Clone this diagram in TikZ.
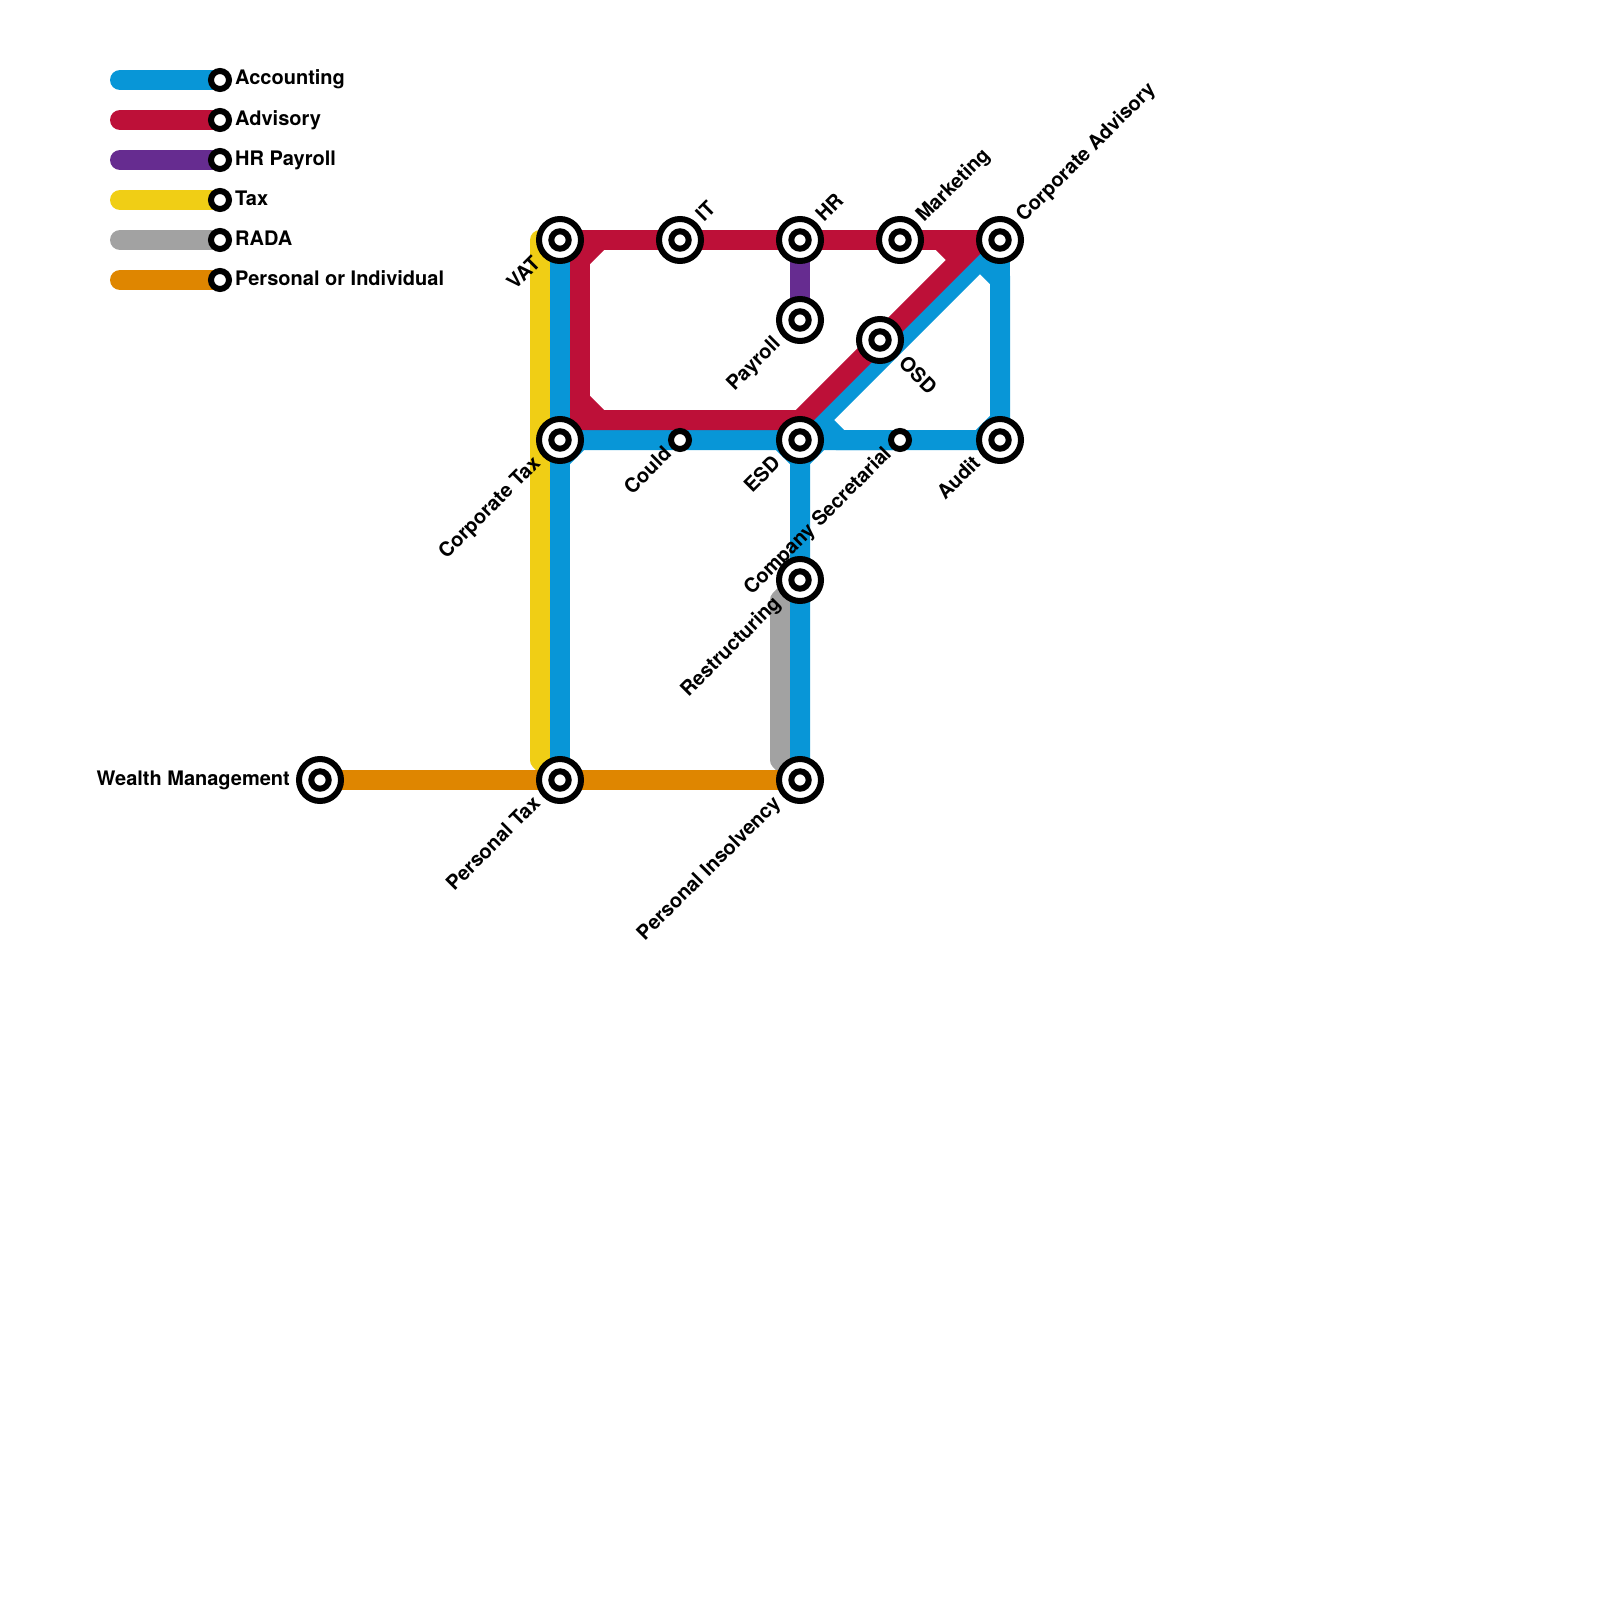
\documentclass[tikz,border=0pt]{standalone}
\usepackage{fontspec}
\setmainfont{TeX Gyre Heros}
\usepackage{tikz}
\usetikzlibrary{positioning}

\definecolor{lineblue}{HTML}{0896D7}
\definecolor{linered}{HTML}{BD1038}
\definecolor{linepurple}{HTML}{662C90}
\definecolor{lineyellow}{HTML}{F0CE15}
\definecolor{linegray}{HTML}{A2A2A2}
\definecolor{lineorange}{HTML}{DF8600}

\pgfdeclarelayer{lines}
\pgfsetlayers{lines,main}

\tikzset{
    metro/.style={line width=20pt},
    legendline/.style={metro, line cap=round},
    softline/.style={metro, line cap=round, line join=round},
    stopbig/.style={circle, draw=black, line width=6pt, fill=white, inner sep=0pt, outer sep=0pt, minimum size=42pt,
        path picture={\draw[line width=6pt, fill=white] (path picture bounding box.center) circle (8.7pt);}},
    stopsmall/.style={circle, draw=black, line width=6pt, fill=white, inner sep=0pt, outer sep=0pt, minimum size=18pt},
    lbl/.style={font=\fontsize{20}{20}\selectfont\bfseries, text=black, inner sep=0pt, text height=14pt, text depth=4pt},
    lblne/.style={xshift=20.5pt, yshift=20.5pt, lbl, rotate=45, anchor=west},
    lblsw/.style={xshift=-22pt, yshift=-21pt, lbl, rotate=45, anchor=east},
    lblswsmall/.style={xshift=-11pt, yshift=-11.5pt, lbl, rotate=45, anchor=east},
    lblse/.style={xshift=21pt, yshift=-21pt, lbl, rotate=-45, anchor=west}
}

\begin{document}
\begin{tikzpicture}[x=1pt, y=-1pt]
    \useasboundingbox (0,0) rectangle (1600,1600);

    \node [stopsmall] (lgaccounting) at (220,80) {};
    \node [stopsmall] (lgadvisory) at (220,120) {};
    \node [stopsmall] (lgpayroll) at (220,160) {};
    \node [stopsmall] (lgtax) at (220,200) {};
    \node [stopsmall] (lgrada) at (220,240) {};
    \node [stopsmall] (lgpersonal) at (220,280) {};
    \coordinate (startaccounting) at (120,80);
    \coordinate (startadvisory) at (120,120);
    \coordinate (startpayroll) at (120,160);
    \coordinate (starttax) at (120,200);
    \coordinate (startrada) at (120,240);
    \coordinate (startpersonal) at (120,280);
    \node [lbl, right=6pt of lgaccounting] (txtaccounting) {Accounting};
    \node [lbl, right=6pt of lgadvisory] (txtadvisory) {Advisory};
    \node [lbl, right=6pt of lgpayroll] (txtpayroll) {HR Payroll};
    \node [lbl, right=6pt of lgtax] (txttax) {Tax};
    \node [lbl, right=6pt of lgrada] (txtrada) {RADA};
    \node [lbl, right=6pt of lgpersonal] (txtpersonal) {Personal or Individual};

    \node [stopbig] (vat) at (560,240) {};
    \node [stopbig] (it) at (680,240) {};
    \node [stopbig] (hr) at (800,240) {};
    \node [stopbig] (marketing) at (900,240) {};
    \node [stopbig] (corpadvisory) at (1000,240) {};
    \node [stopbig] (payroll) at (800,320) {};
    \node [stopbig] (osd) at (880,340) {};
    \node [stopbig] (corptax) at (560,440) {};
    \node [stopsmall] (could) at (680,440) {};
    \node [stopbig] (esd) at (800,440) {};
    \node [stopsmall] (compsec) at (900,440) {};
    \node [stopbig] (audit) at (1000,440) {};
    \node [stopbig] (restructuring) at (800,580) {};
    \node [stopbig] (wealth) at (320,780) {};
    \node [stopbig] (perstax) at (560,780) {};
    \node [stopbig] (insolvency) at (800,780) {};

    \node [lblsw] (lblvat) at (vat) {VAT};
    \node [lblne] (lblit) at (it) {IT};
    \node [lblne] (lblhr) at (hr) {HR};
    \node [lblne] (lblmarketing) at (marketing) {Marketing};
    \node [lblne] (lblcorpadvisory) at (corpadvisory) {Corporate Advisory};
    \node [lblsw] (lblpayroll) at (payroll) {Payroll};
    \node [lblse] (lblosd) at (osd) {OSD};
    \node [lblsw] (lblcorptax) at (corptax) {Corporate Tax};
    \node [lblswsmall] (lblcould) at (could) {Could};
    \node [lblsw] (lblesd) at (esd) {ESD};
    \node [lblswsmall] (lblcompsec) at (compsec) {Company Secretarial};
    \node [lblsw] (lblaudit) at (audit) {Audit};
    \node [lblsw] (lblrestructuring) at (restructuring) {Restructuring};
    \node [lblsw] (lblperstax) at (perstax) {Personal Tax};
    \node [lblsw] (lblinsolvency) at (insolvency) {Personal Insolvency};
    \node [lbl, anchor=east, xshift=-30pt] (lblwealth) at (wealth) {Wealth Management};

    \coordinate (taxtop) at (540,240);
    \coordinate (taxbottom) at (540,760);
    \coordinate (radatop) at (780,600);
    \coordinate (radabottom) at (780,760);
    \coordinate (bluewest) at (580,440);
    \coordinate (blueinwest) at (780,440);
    \coordinate (blueout) at (800,460);
    \coordinate (bluemid) at (820,420);
    \coordinate (blueeast) at (840,440);
    \coordinate (bluelink) at (820,440);
    \coordinate (bluetop) at (980,260);
    \coordinate (blueright) at (1000,280);
    \coordinate (bluelow) at (1000,420);
    \coordinate (bluecorner) at (980,440);
    \coordinate (bluedrop) at (560,460);
    \coordinate (redne) at (940,240);
    \coordinate (redturn) at (960,260);
    \coordinate (redend) at (980,240);
    \coordinate (redsw) at (800,420);
    \coordinate (redbase) at (570,420);
    \coordinate (redlow) at (600,420);
    \coordinate (redleftlow) at (580,400);
    \coordinate (redlefttop) at (580,260);
    \coordinate (redup) at (600,240);
    \coordinate (redtop) at (580,240);
    \coordinate (redfoot) at (580,430);

    \begin{pgfonlayer}{lines}
        \draw [legendline, lineblue] (startaccounting) -- (lgaccounting.center);
        \draw [legendline, linered] (startadvisory) -- (lgadvisory.center);
        \draw [legendline, linepurple] (startpayroll) -- (lgpayroll.center);
        \draw [legendline, lineyellow] (starttax) -- (lgtax.center);
        \draw [legendline, linegray] (startrada) -- (lgrada.center);
        \draw [legendline, lineorange] (startpersonal) -- (lgpersonal.center);

        \draw [softline, lineyellow] (vat.center) -- (taxtop) -- (taxbottom) -- (perstax.center);
        \draw [softline, linegray] (restructuring.center) -- (radatop) -- (radabottom) -- (insolvency.center);

        \draw [metro, lineblue] (vat.center) -- (perstax.center);
        \draw [metro, lineblue] (bluedrop) -- (bluewest) -- (blueinwest) -- (blueout) -- (insolvency.center);
        \draw [metro, lineblue] (blueout) -- (bluelink) -- (compsec.center);
        \draw [metro, lineblue] (esd.center) -- (bluetop) -- (blueright) -- (bluelow) -- (bluecorner) -- (blueeast) -- (bluemid) -- (esd.center);
        \draw [metro, lineblue] (corpadvisory.center) -- (audit.center);

        \draw [metro, linepurple] (hr.center) -- (payroll.center);

        \draw [metro, linered] (vat.center) -- (corpadvisory.center);
        \draw [metro, linered] (redne) -- (redturn);
        \draw [metro, linered] (redend) -- (redsw) -- (redbase);
        \draw [metro, linered] (redtop) -- (redfoot);
        \draw [metro, linered] (redup) -- (redlefttop);
        \draw [metro, linered] (redleftlow) -- (redlow);

        \draw [metro, lineorange] (wealth.center) -- (insolvency.center);
    \end{pgfonlayer}
\end{tikzpicture}
\end{document}
